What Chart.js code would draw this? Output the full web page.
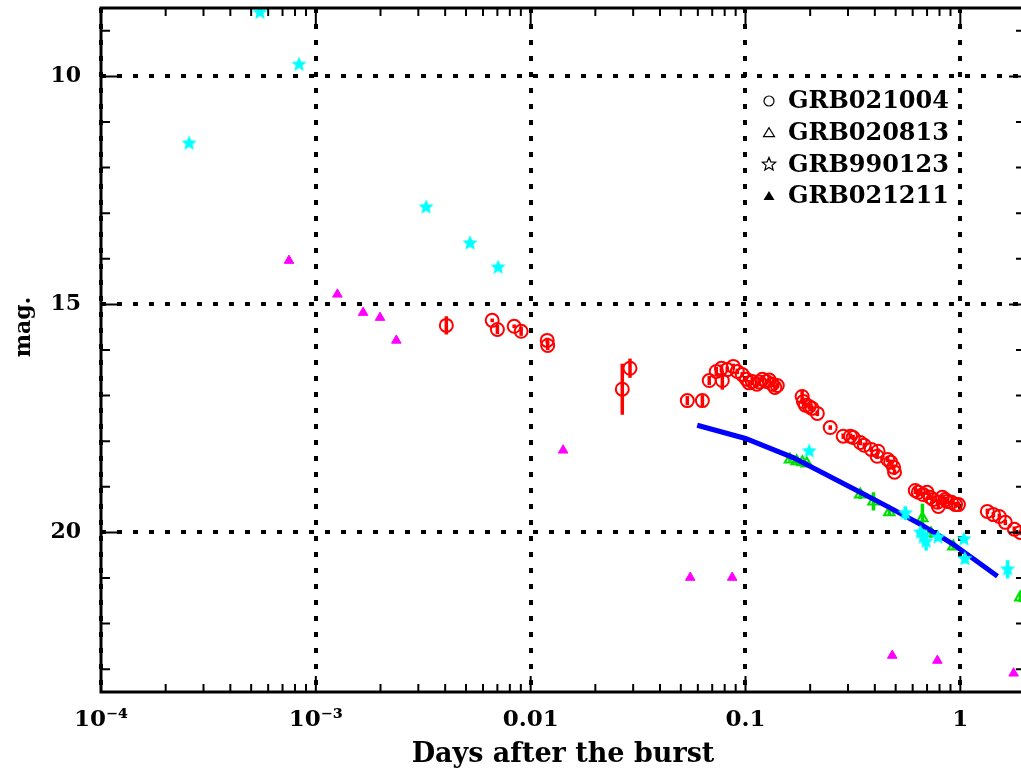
<!DOCTYPE html>
<html>
<head>
<meta charset="utf-8">
<title>GRB optical afterglows</title>
<script src="https://cdn.jsdelivr.net/npm/chart.js@4.4.1/dist/chart.umd.min.js"></script>
<style>
    html, body { margin: 0; padding: 0; background: #fff; overflow: hidden; }
    canvas { display: block; }
</style>
</head>
<body>
<canvas id="lightCurves" width="1030" height="771"></canvas>
<script>
// GRB021004 - red open circles with error bars
const grb021004Days = [0.00405, 0.00662, 0.0070, 0.00838, 0.00903, 0.01194, 0.0120, 0.0267, 0.0290,
    0.0536, 0.0630, 0.0678, 0.0731, 0.0773, 0.0780, 0.0822, 0.0877, 0.0916, 0.0966, 0.101, 0.104,
    0.1074, 0.113, 0.116, 0.1197, 0.125, 0.129, 0.1334, 0.137, 0.1406,
    0.1835, 0.186, 0.190, 0.198, 0.204, 0.216, 0.248, 0.285, 0.308, 0.317, 0.342, 0.357, 0.385,
    0.414, 0.410, 0.459, 0.474, 0.489, 0.494,
    0.617, 0.637, 0.671, 0.700, 0.723, 0.747, 0.782, 0.790, 0.824, 0.850, 0.870, 0.910, 0.950, 0.980,
    1.336, 1.425, 1.519, 1.62, 1.784, 1.903];
const grb021004Mag = [15.46, 15.35, 15.55, 15.48, 15.59, 15.79, 15.90, 16.86, 16.40,
    17.11, 17.11, 16.67, 16.47, 16.40, 16.67, 16.43, 16.36, 16.47, 16.54, 16.64, 16.72,
    16.69, 16.75, 16.70, 16.64, 16.69, 16.66, 16.75, 16.82, 16.78,
    17.02, 17.13, 17.21, 17.24, 17.28, 17.39, 17.70, 17.89, 17.89, 17.92, 18.03, 18.09, 18.18,
    18.22, 18.33, 18.40, 18.46, 18.57, 18.68,
    19.08, 19.12, 19.17, 19.12, 19.23, 19.28, 19.34, 19.43, 19.23, 19.28, 19.32, 19.34, 19.39, 19.39,
    19.54, 19.61, 19.65, 19.78, 19.93, 20.00];
const grb021004Err = [0.20, 0.04, 0.10, 0.04, 0.10, 0.06, 0.10, 0.56, 0.21,
    0.10, 0.12, 0.10, 0.10, 0.08, 0.20, 0.06, 0.06, 0.06, 0.06, 0.06, 0.06,
    0.08, 0.06, 0.06, 0.06, 0.06, 0.06, 0.06, 0.06, 0.06,
    0.15, 0.08, 0.06, 0.06, 0.06, 0.06, 0.05, 0.06, 0.06, 0.06, 0.06, 0.06, 0.06,
    0.06, 0.06, 0.06, 0.06, 0.06, 0.06,
    0.08, 0.08, 0.06, 0.06, 0.06, 0.06, 0.06, 0.06, 0.06, 0.06, 0.06, 0.06, 0.06, 0.06,
    0.06, 0.06, 0.06, 0.06, 0.06, 0.06];

// GRB020813 - green open triangles
const grb020813Days = [0.161, 0.173, 0.184, 0.193, 0.342, 0.394, 0.467, 0.666, 0.73, 0.927, 1.90];
const grb020813Mag = [18.40, 18.44, 18.46, 18.49, 19.17, 19.32, 19.56, 19.69, 20.02, 20.31, 21.43];
const grb020813Err = [0.05, 0.05, 0.05, 0.05, 0.10, 0.20, 0.08, 0.32, 0.10, 0.05, 0.10];

// GRB990123 - cyan stars
const grb990123Days = [0.000257, 0.000549, 0.000835, 0.00326, 0.00522, 0.00706, 0.198,
    0.555, 0.652, 0.672, 0.693, 0.787, 1.04, 1.05, 1.66];
const grb990123Mag = [11.47, 8.60, 9.74, 12.87, 13.66, 14.19, 18.22,
    19.58, 20.00, 20.11, 20.20, 20.11, 20.15, 20.58, 20.81];
const grb990123Err = [0, 0, 0, 0, 0, 0, 0,
    0.15, 0.10, 0.15, 0.20, 0.08, 0.05, 0.10, 0.20];

// GRB021211 - magenta filled triangles
const grb021211Days = [0.00075, 0.00126, 0.00166, 0.00199, 0.00237, 0.01416, 0.0553, 0.0867, 0.482, 0.782, 1.77];
const grb021211Mag = [14.04, 14.78, 15.18, 15.29, 15.79, 18.20, 20.99, 20.99, 22.70, 22.81, 23.09];

// blue model curve
const fitDays = [0.0596, 0.1, 0.1667, 0.342, 0.457, 0.652, 0.927, 1.49];
const fitMag = [17.65, 17.94, 18.36, 19.12, 19.43, 19.82, 20.26, 20.96];

// axes
const xMajorTicks = [0.0001, 0.001, 0.01, 0.1, 1];
const xMajorLabels = ['10\u207B\u2074', '10\u207B\u00B3', '0.01', '0.1', '1'];
const yMajorTicks = [10, 15, 20];
const yMinorTicks = [9, 11, 12, 13, 14, 16, 17, 18, 19, 21, 22, 23];
const legendNames = ['GRB021004', 'GRB020813', 'GRB990123', 'GRB021211'];
const xTitle = 'Days after the burst';
const yTitle = 'mag.';

const xMinorTicks = [];
xMajorTicks.forEach(d => {
    for (let m = 2; m <= 9; m++) if (d * m <= 2) xMinorTicks.push(d * m);
});

const toPoints = (xs, ys) => xs.map((x, i) => ({ x: x, y: ys[i] }));

function starImage(color, size, filled) {
    const c = document.createElement('canvas');
    c.width = c.height = size;
    const g = c.getContext('2d');
    drawStar(g, size / 2, size / 2, size / 2 - 1);
    if (filled) {
        g.fillStyle = color;
        g.fill();
    } else {
        g.strokeStyle = color;
        g.lineWidth = 1.2;
        g.stroke();
    }
    return c;
}

function drawStar(g, cx, cy, r) {
    g.beginPath();
    for (let i = 0; i < 10; i++) {
        const a = -Math.PI / 2 + i * Math.PI / 5;
        const rr = i % 2 ? r * 0.45 : r;
        g.lineTo(cx + rr * Math.cos(a), cy + rr * Math.sin(a));
    }
    g.closePath();
}

// vertical error bars, drawn through the scales
const errorBars = {
    id: 'errorBars',
    beforeDatasetDraw(chart, args) {
        const ds = chart.data.datasets[args.index];
        if (!ds.errors) return;
        const { ctx, chartArea, scales: { x, y } } = chart;
        ctx.save();
        ctx.beginPath();
        ctx.rect(chartArea.left, chartArea.top, chartArea.right - chartArea.left, chartArea.bottom - chartArea.top);
        ctx.clip();
        ctx.strokeStyle = ds.pointBorderColor;
        ctx.lineWidth = 3.5;
        ds.data.forEach((p, i) => {
            const e = ds.errors[i];
            if (!e) return;
            const px = x.getPixelForValue(p.x);
            ctx.beginPath();
            ctx.moveTo(px, y.getPixelForValue(p.y - e));
            ctx.lineTo(px, y.getPixelForValue(p.y + e));
            ctx.stroke();
        });
        ctx.restore();
    }
};

// box with inward ticks on all four sides, y title and the legend
const frame = {
    id: 'frame',
    afterDraw(chart) {
        const { ctx, chartArea: a, scales: { x, y } } = chart;
        ctx.save();
        ctx.strokeStyle = '#000';
        ctx.lineWidth = 2;
        const tick = (v, len, horiz) => {
            ctx.beginPath();
            if (horiz) {
                const px = x.getPixelForValue(v);
                ctx.moveTo(px, a.bottom); ctx.lineTo(px, a.bottom - len);
                ctx.moveTo(px, a.top); ctx.lineTo(px, a.top + len);
            } else {
                const py = y.getPixelForValue(v);
                ctx.moveTo(a.left, py); ctx.lineTo(a.left + len, py);
                ctx.moveTo(a.right, py); ctx.lineTo(a.right - len, py);
            }
            ctx.stroke();
        };
        xMajorTicks.forEach(v => tick(v, 16, true));
        xMinorTicks.forEach(v => tick(v, 8, true));
        yMajorTicks.forEach(v => tick(v, 16, false));
        yMinorTicks.forEach(v => tick(v, 9, false));

        ctx.lineWidth = 3;
        ctx.strokeRect(a.left, a.top, a.right - a.left, a.bottom - a.top);

        ctx.fillStyle = '#000';
        ctx.textBaseline = 'middle';

        // y axis title, a little above the middle as in the original
        ctx.save();
        ctx.font = 'bold 22px "DejaVu Serif"';
        ctx.translate(24, 327);
        ctx.rotate(-Math.PI / 2);
        ctx.textAlign = 'center';
        ctx.fillText(yTitle, 0, 0);
        ctx.restore();

        // legend
        ctx.font = 'bold 24px "DejaVu Serif"';
        legendNames.forEach((name, i) => {
            const cy = a.top + 93 + i * 31.7;
            const cx = 769;
            ctx.lineWidth = 1.2;
            ctx.beginPath();
            if (i === 0) {
                ctx.arc(cx, cy, 5, 0, Math.PI * 2);
                ctx.stroke();
            } else if (i === 2) {
                drawStar(ctx, cx, cy, 7);
                ctx.stroke();
            } else {
                ctx.moveTo(cx, cy - 5);
                ctx.lineTo(cx + 5.5, cy + 4);
                ctx.lineTo(cx - 5.5, cy + 4);
                ctx.closePath();
                if (i === 3) ctx.fill(); else ctx.stroke();
            }
            ctx.fillText(name, 788, cy + 1);
        });
        ctx.restore();
    }
};

Chart.defaults.font.family = '"DejaVu Serif"';
Chart.defaults.font.weight = 'bold';
Chart.defaults.color = '#000';

const green = '#00e000';
const starCyan = starImage('#00ffff', 18, true);

new Chart(document.getElementById('lightCurves'), {
    type: 'scatter',
    data: {
        datasets: [
            {
                label: 'GRB990123',
                data: toPoints(grb990123Days, grb990123Mag),
                errors: grb990123Err,
                pointStyle: starCyan,
                pointRadius: 9,
                pointBorderColor: '#00ffff',
                pointBackgroundColor: '#00ffff'
            },
            {
                label: 'model',
                data: toPoints(fitDays, fitMag),
                showLine: true,
                borderColor: '#0000ff',
                borderWidth: 5,
                pointRadius: 0,
                tension: 0
            },
            {
                label: 'GRB020813',
                data: toPoints(grb020813Days, grb020813Mag),
                errors: grb020813Err,
                pointStyle: 'triangle',
                pointRadius: 6,
                pointBorderWidth: 2,
                pointBorderColor: green,
                pointBackgroundColor: 'rgba(0,0,0,0)'
            },
            {
                label: 'GRB021004',
                data: toPoints(grb021004Days, grb021004Mag),
                errors: grb021004Err,
                pointStyle: 'circle',
                pointRadius: 6.5,
                pointBorderWidth: 2,
                pointBorderColor: '#ff0000',
                pointBackgroundColor: 'rgba(0,0,0,0)'
            },
            {
                label: 'GRB021211',
                data: toPoints(grb021211Days, grb021211Mag),
                pointStyle: 'triangle',
                pointRadius: 5.5,
                pointBorderWidth: 1,
                pointBorderColor: '#ff00ff',
                pointBackgroundColor: '#ff00ff'
            }
        ]
    },
    options: {
        responsive: false,
        animation: false,
        devicePixelRatio: 1,
        layout: { autoPadding: false, padding: { top: 8, right: 5, left: 0, bottom: 0 } },
        plugins: {
            legend: { display: false },
            tooltip: { enabled: false }
        },
        scales: {
            x: {
                type: 'logarithmic',
                min: 0.0001,
                max: 2,
                afterBuildTicks: s => { s.ticks = xMajorTicks.map(v => ({ value: v })); },
                afterFit: s => {
                    s.height = 79;
                    s.paddingLeft = 0;
                    s.paddingRight = 0;
                },
                ticks: {
                    autoSkip: false,
                    maxRotation: 0,
                    padding: 14,
                    font: { size: 23 },
                    callback: (v, i) => xMajorLabels[i]
                },
                grid: { color: '#000', lineWidth: 4, drawTicks: false },
                border: { display: false, dash: [5, 11] },
                title: {
                    display: true,
                    text: xTitle,
                    font: { size: 27 },
                    padding: { top: 2, bottom: 0 }
                }
            },
            y: {
                reverse: true,
                min: 8.5,
                max: 23.5,
                afterBuildTicks: s => { s.ticks = yMajorTicks.map(v => ({ value: v })); },
                afterFit: s => {
                    s.width = 101;
                    s.paddingTop = 0;
                    s.paddingBottom = 0;
                },
                ticks: { padding: 20, font: { size: 22 } },
                grid: { color: '#000', lineWidth: 4, drawTicks: false },
                border: { display: false, dash: [5, 11] }
            }
        }
    },
    plugins: [errorBars, frame]
});
</script>
</body>
</html>
